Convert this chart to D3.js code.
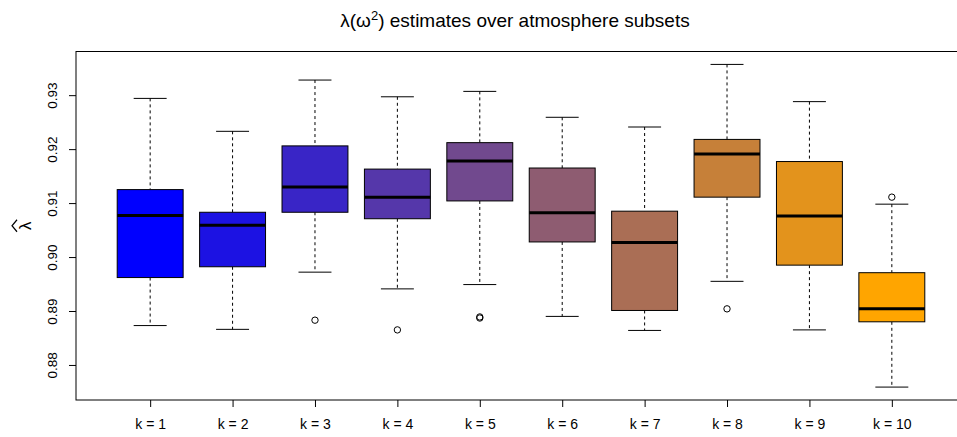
<!DOCTYPE html>
<html>
<head>
<meta charset="utf-8">
<script src="https://cdn.jsdelivr.net/npm/d3@7"></script>
<style>
  body { margin: 0; background: #ffffff; }
  svg { font-family: "Liberation Sans", Arial, sans-serif; }
</style>
</head>
<body>
<div id="chart"></div>
<script>
// five-number summaries of lambda-hat for each atmosphere subset
var categories = ["k = 1", "k = 2", "k = 3", "k = 4", "k = 5", "k = 6", "k = 7", "k = 8", "k = 9", "k = 10"];
var whiskerLow  = [0.8873, 0.8866, 0.8972, 0.8941, 0.8949, 0.8890, 0.8864, 0.8955, 0.8865, 0.8759];
var quartileLow = [0.8962, 0.8982, 0.9083, 0.9071, 0.9104, 0.9028, 0.8901, 0.9111, 0.8985, 0.8880];
var medians     = [0.9077, 0.9059, 0.9130, 0.9111, 0.9178, 0.9082, 0.9027, 0.9191, 0.9076, 0.8904];
var quartileUp  = [0.9125, 0.9083, 0.9206, 0.9163, 0.9212, 0.9165, 0.9085, 0.9218, 0.9177, 0.8971];
var whiskerUp   = [0.9294, 0.9233, 0.9328, 0.9297, 0.9307, 0.9259, 0.9241, 0.9357, 0.9288, 0.9098];
var outliers    = [[], [], [0.8883], [0.8865], [0.8889, 0.8887], [], [], [0.8904], [], [0.9111]];
var yTicks = [0.88, 0.89, 0.90, 0.91, 0.92, 0.93];

var width = 957, height = 437;
var margin = {left: 76, top: 51.5, bottom: 400, right: 966}; // right edge runs past the page

var svg = d3.select("#chart").append("svg")
  .attr("width", width)
  .attr("height", height);

// x: group positions 1..10 with 4% padding like base graphics
var x = d3.scaleLinear()
  .domain([0.1, categories.length + 0.9])
  .range([margin.left, margin.right]);

// y: full data range (whiskers and outliers) padded by 4%
var allVals = whiskerLow.concat(whiskerUp, d3.merge(outliers));
var yMin = d3.min(allVals), yMax = d3.max(allVals);
var pad = (yMax - yMin) * 0.04;
var y = d3.scaleLinear()
  .domain([yMin - pad, yMax + pad])
  .range([margin.bottom, margin.top]);

// blue -> orange ramp
var color = function(i) {
  return d3.interpolateRgb("blue", "orange")(i / (categories.length - 1));
};

var boxW = (x(1.8) - x(1)); // boxwex 0.8
var capW = boxW / 2;

var groups = svg.selectAll("g.box")
  .data(categories)
  .enter()
  .append("g")
  .attr("class", "box")
  .attr("transform", function(d, i) { return "translate(" + x(i + 1) + ",0)"; });

// dashed whiskers
groups.append("line")
  .attr("x1", 0).attr("x2", 0)
  .attr("y1", function(d, i) { return y(whiskerUp[i]); })
  .attr("y2", function(d, i) { return y(quartileUp[i]); })
  .attr("stroke", "#000").attr("stroke-dasharray", "3,3");
groups.append("line")
  .attr("x1", 0).attr("x2", 0)
  .attr("y1", function(d, i) { return y(quartileLow[i]); })
  .attr("y2", function(d, i) { return y(whiskerLow[i]); })
  .attr("stroke", "#000").attr("stroke-dasharray", "3,3");

// whisker caps
groups.append("line")
  .attr("x1", -capW / 2).attr("x2", capW / 2)
  .attr("y1", function(d, i) { return y(whiskerUp[i]); })
  .attr("y2", function(d, i) { return y(whiskerUp[i]); })
  .attr("stroke", "#000");
groups.append("line")
  .attr("x1", -capW / 2).attr("x2", capW / 2)
  .attr("y1", function(d, i) { return y(whiskerLow[i]); })
  .attr("y2", function(d, i) { return y(whiskerLow[i]); })
  .attr("stroke", "#000");

// the boxes
groups.append("rect")
  .attr("x", -boxW / 2)
  .attr("width", boxW)
  .attr("y", function(d, i) { return y(quartileUp[i]); })
  .attr("height", function(d, i) { return y(quartileLow[i]) - y(quartileUp[i]); })
  .attr("fill", function(d, i) { return color(i); })
  .attr("stroke", "#000");

// medians
groups.append("line")
  .attr("x1", -boxW / 2).attr("x2", boxW / 2)
  .attr("y1", function(d, i) { return y(medians[i]); })
  .attr("y2", function(d, i) { return y(medians[i]); })
  .attr("stroke", "#000").attr("stroke-width", 3);

// outlying points
groups.each(function(d, i) {
  d3.select(this).selectAll("circle")
    .data(outliers[i])
    .enter()
    .append("circle")
    .attr("cx", 0)
    .attr("cy", function(v) { return y(v); })
    .attr("r", 3.2)
    .attr("fill", "none")
    .attr("stroke", "#000");
});

// frame
svg.append("rect")
  .attr("x", margin.left).attr("y", margin.top)
  .attr("width", margin.right - margin.left)
  .attr("height", margin.bottom - margin.top)
  .attr("fill", "none").attr("stroke", "#000");

// y axis, labels parallel to the axis
var yAxis = svg.append("g")
  .attr("transform", "translate(" + margin.left + ",0)")
  .call(d3.axisLeft(y).tickValues(yTicks).tickFormat(d3.format(".2f")).tickSize(7).tickPadding(0));
yAxis.select(".domain").remove();
yAxis.selectAll("text")
  .attr("font-size", "13.5px")
  .attr("font-family", "Liberation Sans, Arial, sans-serif")
  .attr("text-anchor", "middle")
  .attr("dy", null)
  .attr("x", null)
  .attr("transform", "translate(-24,0) rotate(-90)")
  .attr("dominant-baseline", "central");

// x axis
var xAxis = svg.append("g")
  .attr("transform", "translate(0," + margin.bottom + ")")
  .call(d3.axisBottom(x).tickValues(d3.range(1, categories.length + 1))
    .tickFormat(function(d) { return categories[d - 1]; }).tickSize(7).tickPadding(0));
xAxis.select(".domain").remove();
xAxis.selectAll("text")
  .attr("font-size", "14px")
  .attr("font-family", "Liberation Sans, Arial, sans-serif")
  .attr("dy", null)
  .attr("y", 24)
  .attr("dominant-baseline", "central");

// y label: lambda with a hat, rotated
var ylab = svg.append("g")
  .attr("transform", "translate(31," + ((margin.top + margin.bottom) / 2) + ") rotate(-90)");
ylab.append("text")
  .attr("text-anchor", "middle")
  .attr("font-size", "17px")
  .text("λ");
ylab.append("path")
  .attr("d", "M-6,-14 L0,-19 L6,-14")
  .attr("fill", "none")
  .attr("stroke", "#000")
  .attr("stroke-width", 1.2);

// title
var title = svg.append("text")
  .attr("x", 515)
  .attr("y", 27)
  .attr("text-anchor", "middle")
  .attr("font-size", "19px");
title.append("tspan").text("λ(ω");
title.append("tspan").attr("font-size", "13px").attr("dy", -7).text("2");
title.append("tspan").attr("dy", 7).text(") estimates over atmosphere subsets");
</script>
</body>
</html>
